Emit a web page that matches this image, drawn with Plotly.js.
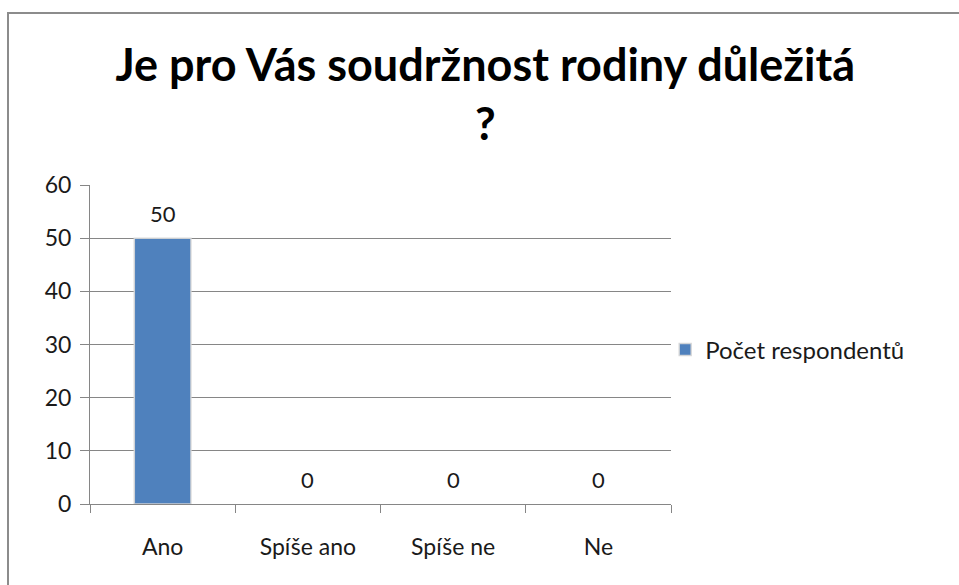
<!DOCTYPE html>
<html>
<head>
<meta charset="utf-8">
<script src="https://cdn.plot.ly/plotly-3.0.1.min.js"></script>
<style>
  html, body { margin: 0; padding: 0; background: #fff; }
  #wrap { position: relative; width: 959px; height: 585px; overflow: hidden; }
  #chart { position: absolute; left: 0; top: 0; width: 959px; height: 585px; }
  #frame { position: absolute; left: 7px; top: 12px; width: 1000px; height: 700px;
           border-top: 2px solid #8c8c8c; border-left: 2px solid #8c8c8c; pointer-events: none; }
</style>
</head>
<body>
<div id="wrap">
  <div id="chart"></div>
  <div id="frame"></div>
</div>
<script>
const chartTitle = "Je pro Vás soudržnost rodiny důležitá<br>?";
const categories = ["Ano", "Spíše ano", "Spíše ne", "Ne"];
const seriesName = "Počet respondentů";
const values = [50, 0, 0, 0];
const yTicks = [0, 10, 20, 30, 40, 50, 60];

const font = "Lato, 'Open Sans', sans-serif";

const trace = {
  type: "bar",
  x: categories,
  y: values,
  name: seriesName,
  marker: {
    color: "#4f81bd",
    line: { color: "rgba(215,215,215,0.9)", width: values.map(v => v > 0 ? 1.5 : 0) }
  },
  hoverinfo: "x+y"
};

const annotations = categories.map((c, i) => ({
  x: c, y: values[i], xref: "x", yref: "y",
  text: String(values[i]), showarrow: false,
  yanchor: "middle", yshift: 25,
  font: { family: font, size: 22, color: "#1a1a1a" }
}));

const layout = {
  width: 959, height: 585,
  margin: { l: 90, r: 288, t: 185, b: 81 },
  paper_bgcolor: "#ffffff", plot_bgcolor: "#ffffff",
  title: {
    text: chartTitle,
    x: 0.506, xref: "container", xanchor: "center",
    y: 1 - 81 / 585, yref: "container", yanchor: "top",
    font: { family: font, size: 45, color: "#000000", weight: "bold" }
  },
  bargap: 0.61,
  showlegend: true,
  legend: {
    x: 0.99, xanchor: "left", y: 0.483, yanchor: "middle",
    font: { family: font, size: 24, color: "#1a1a1a" },
    itemwidth: 30, bgcolor: "rgba(0,0,0,0)"
  },
  xaxis: {
    type: "category",
    showgrid: false,
    showline: true, linecolor: "#868686", linewidth: 1,
    ticks: "outside", tickson: "boundaries", ticklen: 8, tickcolor: "#868686",
    tickfont: { family: font, size: 23, color: "#1a1a1a" },
    ticklabelstandoff: 22,
    zeroline: false
  },
  yaxis: {
    range: [0, 60],
    tickvals: yTicks,
    showgrid: true, gridcolor: "#868686", gridwidth: 1,
    showline: true, linecolor: "#868686", linewidth: 1,
    ticks: "outside", ticklen: 9, tickcolor: "#868686",
    tickfont: { family: font, size: 23, color: "#1a1a1a" },
    ticklabelstandoff: 4,
    zeroline: false
  },
  annotations: annotations
};

Plotly.newPlot("chart", [trace], layout, { displayModeBar: false });
</script>
</body>
</html>
